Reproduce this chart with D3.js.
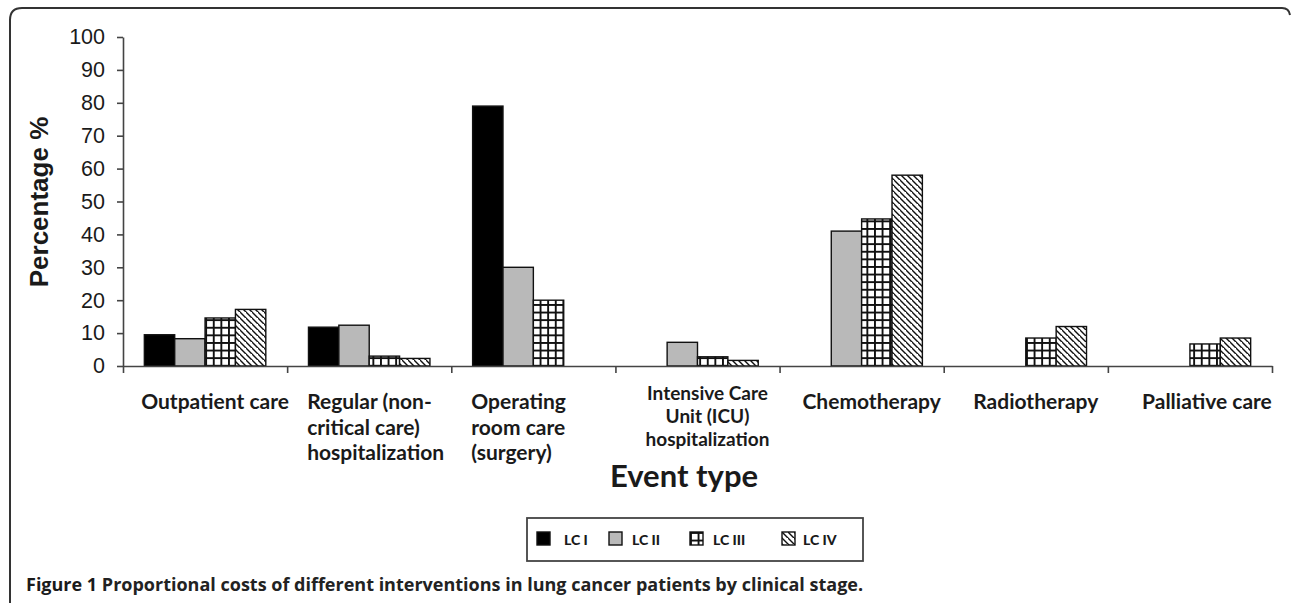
<!DOCTYPE html>
<html>
<head>
<meta charset="utf-8">
<script src="https://cdn.jsdelivr.net/npm/d3@7"></script>
<style>
  body { margin: 0; background: #fff; }
  svg { display: block; }
</style>
</head>
<body>
<div id="contenedor"></div>
<script>
// datos
categorias = ["Outpatient care", "Regular (non-critical care) hospitalization", "Operating room care (surgery)",
  "Intensive Care Unit (ICU) hospitalization", "Chemotherapy", "Radiotherapy", "Palliative care"]
etiquetas = [["Outpatient care"], ["Regular (non-", "critical care)", "hospitalization"],
  ["Operating", "room care", "(surgery)"], ["Intensive Care", "Unit (ICU)", "hospitalization"],
  ["Chemotherapy"], ["Radiotherapy"], ["Palliative care"]]
series = ["LC I", "LC II", "LC III", "LC IV"]
lc1 = [9.5, 11.8, 79, 0, 0, 0, 0]
lc2 = [8.3, 12.4, 30, 7.2, 41, 0, 0]
lc3 = [14.6, 3, 20, 2.8, 44.7, 8.5, 6.7]
lc4 = [17.2, 2.3, 0, 1.7, 58, 12, 8.5]
ticksY = [0, 10, 20, 30, 40, 50, 60, 70, 80, 90, 100]

valores = [lc1, lc2, lc3, lc4]

ancho = 1292
alto = 603

svg = d3.select("#contenedor").append("svg")
  .attr("width", ancho)
  .attr("height", alto)

// patrones
defs = svg.append("defs")
cuadros = defs.append("pattern").attr("id", "cuadros")
  .attr("patternUnits", "userSpaceOnUse").attr("width", 7.6).attr("height", 7.6)
cuadros.append("rect").attr("width", 7.6).attr("height", 7.6).attr("fill", "#fff")
cuadros.append("path").attr("d", "M0,0.9H7.6M0.9,0V7.6").attr("stroke", "#111").attr("stroke-width", 2)

rayas = defs.append("pattern").attr("id", "rayas")
  .attr("patternUnits", "userSpaceOnUse").attr("width", 6).attr("height", 6)
rayas.append("rect").attr("width", 6).attr("height", 6).attr("fill", "#fff")
rayas.append("path").attr("d", "M-1,-1L7,7M-4,2L2,8M4,-4L10,2")
  .attr("stroke", "#111").attr("stroke-width", 1.4)

rellenos = ["#000", "#b9b9b9", "url(#cuadros)", "url(#rayas)"]

// marco
svg.append("path")
  .attr("d", "M10,603V20Q10,8 22,8H1282Q1289,8 1290,15")
  .attr("fill", "none").attr("stroke", "#333").attr("stroke-width", 2)

x0 = 123, x1 = 1272, y0 = 366, y1 = 37

escalaY = d3.scaleLinear().domain([0, 100]).range([y0, y1])
escalaX = d3.scaleBand().domain(categorias).range([x0, x1]).paddingInner(0.26).paddingOuter(0.13)
escalaSerie = d3.scaleBand().domain(series).range([0, escalaX.bandwidth()])
limites = d3.scaleLinear().domain([0, categorias.length]).range([x0, x1])

// eje Y
ejeY = d3.axisLeft(escalaY).tickValues(ticksY).tickSize(6).tickSizeOuter(0).tickPadding(12)
gy = svg.append("g").attr("transform", "translate(" + x0 + ",0)").call(ejeY)
gy.select(".domain").attr("stroke", "#444").attr("stroke-width", 1.6)
gy.selectAll(".tick line").attr("stroke", "#444").attr("stroke-width", 1.6)
gy.selectAll("text").attr("font-family", "Liberation Sans, Arial, sans-serif")
  .attr("font-size", 21.5).attr("fill", "#1a1a1a")

// barras
datos = []
categorias.forEach(function(c, i) {
  series.forEach(function(s, j) {
    datos.push({cat: c, serie: s, j: j, v: valores[j][i]})
  })
})

svg.selectAll("rect.barra")
  .data(datos.filter(function(d) { return d.v > 0 }))
  .enter().append("rect")
  .attr("class", "barra")
  .attr("x", function(d) { return escalaX(d.cat) + escalaSerie(d.serie) })
  .attr("y", function(d) { return escalaY(d.v) })
  .attr("width", escalaSerie.bandwidth())
  .attr("height", function(d) { return y0 - escalaY(d.v) })
  .attr("fill", function(d) { return rellenos[d.j] })
  .attr("stroke", "#111").attr("stroke-width", 1.4)

// eje X
ejeX = d3.axisBottom(limites).tickValues(d3.range(categorias.length + 1)).tickFormat("").tickSize(7).tickSizeOuter(0)
gx = svg.append("g").attr("transform", "translate(0," + y0 + ")").call(ejeX)
gx.select(".domain").attr("stroke", "#444").attr("stroke-width", 1.6)
gx.selectAll(".tick line").attr("stroke", "#444").attr("stroke-width", 1.6)

// etiquetas de categorias
etiq = svg.append("g").attr("font-family", "Lato, sans-serif").attr("font-weight", "bold").attr("fill", "#1a1a1a")
etiquetas.forEach(function(lineas, i) {
  c = categorias[i]
  izquierda = (i == 1 || i == 2)
  chico = (i == 3)
  xx = izquierda ? limites(i) + 20 : escalaX(c) + escalaX.bandwidth() / 2 + (i == 6 ? 17 : 10)
  yy = chico ? 400 : 409
  paso = chico ? 23 : 25.5
  lineas.forEach(function(t, k) {
    etiq.append("text")
      .attr("x", xx).attr("y", yy + k * paso)
      .attr("text-anchor", izquierda ? "start" : "middle")
      .attr("font-size", chico ? 19 : 21)
      .text(t)
  })
})

// titulos de ejes
svg.append("text")
  .attr("transform", "translate(48,202) rotate(-90)")
  .attr("text-anchor", "middle")
  .attr("font-family", "Liberation Sans, Arial, sans-serif")
  .attr("font-weight", "bold").attr("font-size", 26).attr("fill", "#1a1a1a")
  .text("Percentage %")

svg.append("text")
  .attr("x", 684).attr("y", 487)
  .attr("text-anchor", "middle")
  .attr("font-family", "Lato, sans-serif")
  .attr("font-weight", "bold").attr("font-size", 31).attr("fill", "#1a1a1a")
  .text("Event type")

// leyenda
leyenda = svg.append("g")
leyenda.append("rect").attr("x", 527).attr("y", 518).attr("width", 336).attr("height", 43)
  .attr("fill", "none").attr("stroke", "#444").attr("stroke-width", 1.8)
posLeyenda = d3.scaleOrdinal().domain(series).range([537, 609, 690, 782])
item = leyenda.selectAll("g.item").data(series).enter().append("g")
  .attr("transform", function(d) { return "translate(" + posLeyenda(d) + ",532)" })
item.append("rect").attr("width", 13).attr("height", 13)
  .attr("fill", function(d, j) { return rellenos[j] })
  .attr("stroke", "#111").attr("stroke-width", 1.4)
item.append("text").attr("x", function(d, j) { return j == 3 ? 21 : (j == 0 ? 27 : 23) })
  .attr("y", 12.5)
  .attr("font-family", "Lato, sans-serif").attr("font-weight", "900")
  .attr("font-size", 14).attr("fill", "#1a1a1a")
  .text(function(d) { return d })

// pie de figura
pie = svg.append("text").attr("x", 26).attr("y", 591)
  .attr("font-family", "Open Sans, sans-serif").attr("font-weight", "bold")
  .attr("font-size", 18).attr("fill", "#1a1a1a")
pie.append("tspan").text("Figure 1 ")
pie.append("tspan").attr("fill", "#222").text("Proportional costs of different interventions in lung cancer patients by clinical stage.")
</script>
</body>
</html>
